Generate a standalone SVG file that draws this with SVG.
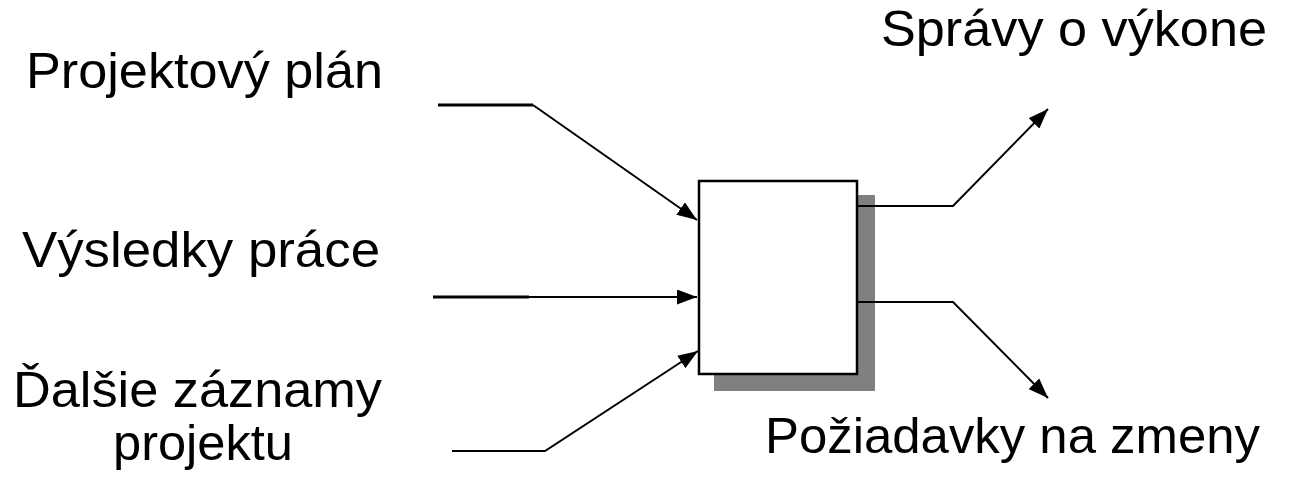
<svg xmlns="http://www.w3.org/2000/svg" width="1292" height="481" viewBox="0 0 1292 481">
<defs>
<style>
.t{font-family:"Liberation Sans",Arial,sans-serif;font-size:50px;fill:#000}
.c{fill:none;stroke:#000;stroke-width:2}
.ct{fill:none;stroke:#000;stroke-width:3}
</style>
<marker id="ah2" viewBox="0 0 20 15" refX="20" refY="7.5" markerWidth="20" markerHeight="15" markerUnits="userSpaceOnUse" orient="auto">
<path d="M0,0 L20,7.5 L0,15 z" fill="#000"/>
</marker>
</defs>
<rect width="1292" height="481" fill="#fff"/>
<g id="process">
<rect x="714" y="195" width="161" height="196" fill="#808080"/>
<rect x="699" y="181" width="158" height="193" fill="#fff" stroke="#000" stroke-width="2.5"/>
</g>
<g id="connectors">
<line class="ct" x1="438" y1="105" x2="533" y2="105"/>
<path class="c" d="M533,105 L697,220" marker-end="url(#ah2)"/>
<line class="ct" x1="433" y1="297" x2="529" y2="297"/>
<path class="c" d="M529,297 L697,297" marker-end="url(#ah2)"/>
<path class="c" d="M452,451 L545,451 L698,351" marker-end="url(#ah2)"/>
<path class="c" d="M858,206 L953,206 L1048,109" marker-end="url(#ah2)"/>
<path class="c" d="M858,302 L953,302 L1048,398" marker-end="url(#ah2)"/>
</g>
<g id="label-plan"><text class="t" x="26" y="88" textLength="357" lengthAdjust="spacingAndGlyphs">Projektový plán</text></g>
<g id="label-vysledky"><text class="t" x="22" y="267" textLength="358" lengthAdjust="spacingAndGlyphs">Výsledky práce</text></g>
<g id="label-dalsie"><text class="t" x="13" y="407" textLength="369" lengthAdjust="spacingAndGlyphs">Ďalšie záznamy</text><text class="t" x="113" y="460" textLength="180" lengthAdjust="spacingAndGlyphs">projektu</text></g>
<g id="label-spravy"><text class="t" x="881" y="46" textLength="386" lengthAdjust="spacingAndGlyphs">Správy o výkone</text></g>
<g id="label-poziadavky"><text class="t" x="765" y="453" textLength="495" lengthAdjust="spacingAndGlyphs">Požiadavky na zmeny</text></g>
</svg>
